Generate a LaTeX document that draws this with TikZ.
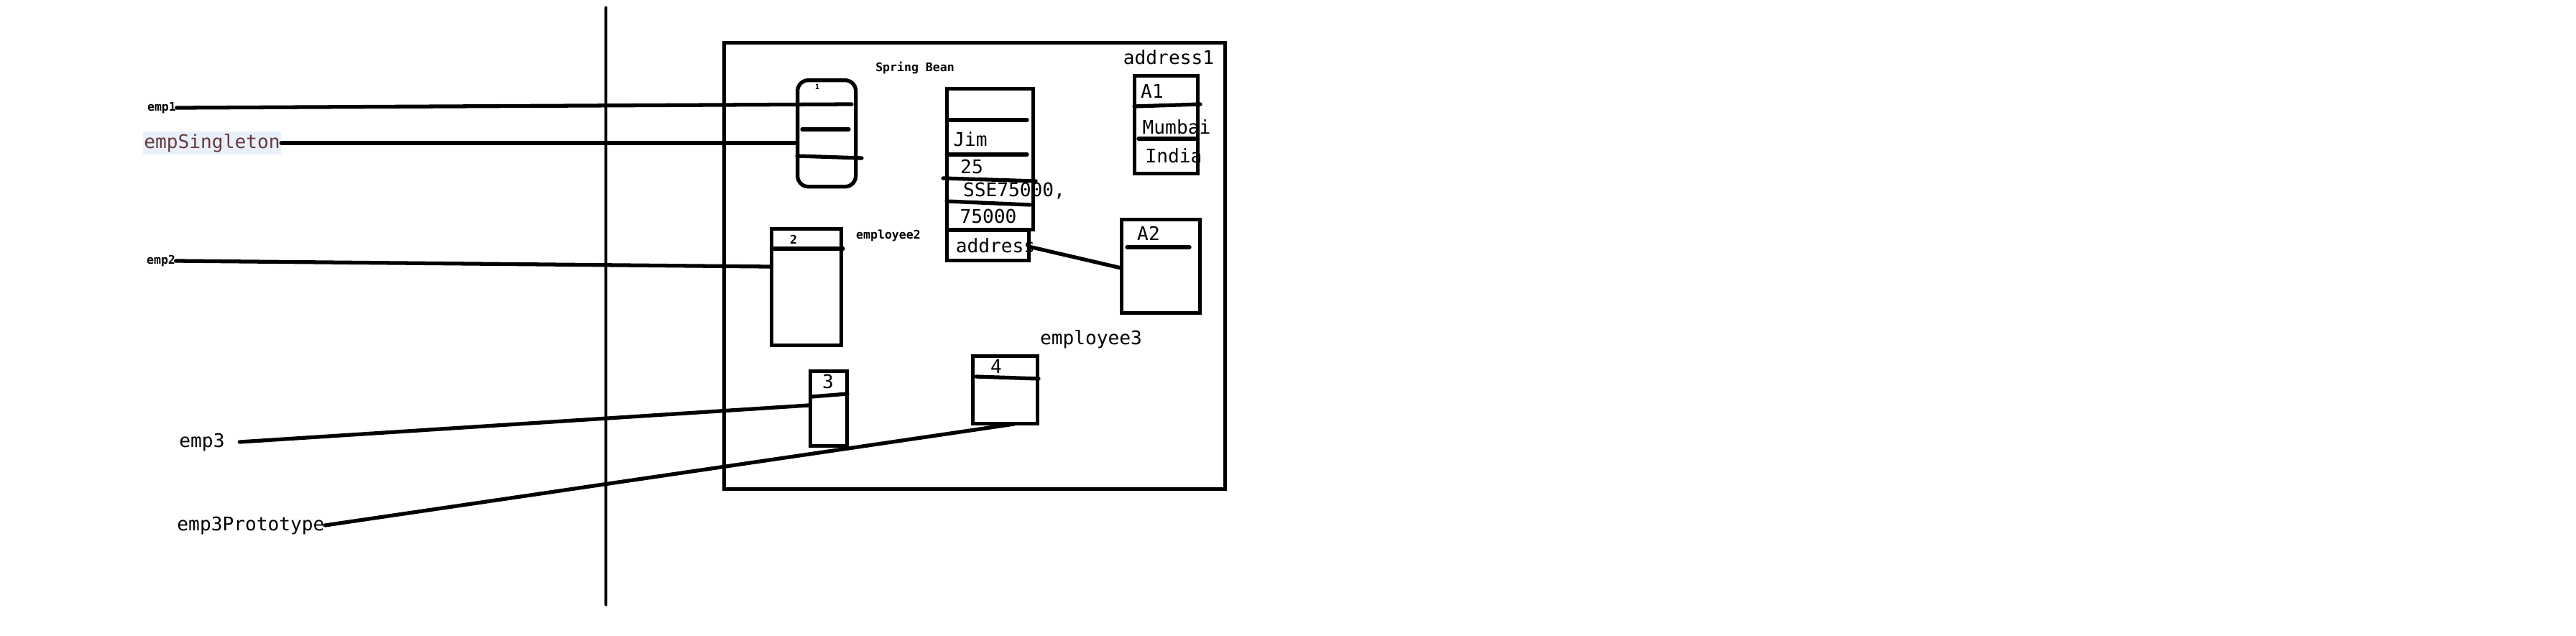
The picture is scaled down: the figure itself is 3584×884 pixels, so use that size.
\documentclass[tikz,border=0pt]{standalone}
\usepackage{fontspec}
\setmainfont{DejaVu Sans}
\setmonofont{DejaVu Sans Mono}
\usepackage{xcolor}
\usetikzlibrary{positioning}
\definecolor{refbrown}{RGB}{105,58,58}
\definecolor{refhigh}{RGB}{232,241,251}

\begin{document}
\begin{tikzpicture}[x=0.01cm, y=-0.01cm,
    objbox/.style={draw, line width=1.5pt, inner sep=0pt, anchor=north west},
    wire/.style={line width=1.5pt, line cap=round},
    cell/.style={font=\ttfamily\fontsize{7.45}{8}\selectfont, inner sep=0pt},
    tag/.style={font=\ttfamily\bfseries\fontsize{4.7}{5}\selectfont, inner sep=0pt}]
  \useasboundingbox (0,0) rectangle (3584,884);

  % stack / heap border
  \coordinate (top) at (843,11);
  \coordinate (bottom) at (843,841);
  \draw[line width=1.4pt, line cap=round] (top) -- (bottom);

  % the container
  \node[objbox, line width=1.4pt, minimum width=6.97cm, minimum height=6.21cm] (bean) at (1005,57) {};
  \node[tag] (beanlabel) at (1273,94) {Spring Bean};

  % objects
  \node[objbox, rounded corners=0.15cm, minimum width=0.81cm, minimum height=1.48cm] (obj1) at (1107,109) {};
  \node[objbox, minimum width=1.20cm, minimum height=1.96cm] (jimbox) at (1315,121) {};
  \node[objbox, minimum width=1.14cm, minimum height=0.42cm] (addrbox) at (1315,318) {};
  \node[objbox, minimum width=0.88cm, minimum height=1.36cm] (a1box) at (1576,103) {};
  \node[objbox, minimum width=1.09cm, minimum height=1.30cm] (a2box) at (1558,303) {};
  \node[objbox, minimum width=0.97cm, minimum height=1.62cm] (obj2) at (1071,316) {};
  \node[objbox, minimum width=0.51cm, minimum height=1.04cm] (obj3) at (1125,514) {};
  \node[objbox, minimum width=0.90cm, minimum height=0.94cm] (obj4) at (1351,493) {};

  % field dividers
  \foreach \xa/\ya/\xb/\yb in {1116/180/1181/180, 1109/217/1199/220,
      1321/167/1429/167, 1317/215/1429/215, 1312/248/1441/252, 1317/280/1433/285,
      1578/148/1670/145, 1584/193/1663/193, 1568/344/1655/344,
      1077/346/1173/346, 1129/552/1179/548, 1358/524/1445/527} {
    \draw[wire] (\xa,\ya) -- (\xb,\yb);
  }

  % object labels
  \node[tag, font=\ttfamily\bfseries\fontsize{2.8}{3}\selectfont] (id1) at (1137,121) {1};
  \node[tag] (id2) at (1104,333) {2};
  \node[cell] (id3) at (1152,531) {3};
  \node[cell] (id4) at (1386,510) {4};
  \node[tag] (emp2name) at (1236,328) {employee2};
  \node[cell] (emp3name) at (1518,472) {employee3};
  \node[cell] (addr1name) at (1626,80) {address1};

  % field values
  \node[cell] (fname) at (1350,194) {Jim};
  \node[cell] (fage) at (1352,232) {25};
  \node[cell] (fdesig) at (1411,266) {SSE75000,};
  \node[cell] (fsal) at (1375,301) {75000};
  \node[cell] (faddr) at (1385,342) {address};
  \node[cell] (fa1) at (1603,127) {A1};
  \node[cell] (fcity) at (1637,177) {Mumbai};
  \node[cell] (fcountry) at (1633,217) {India};
  \node[cell] (fa2) at (1598,325) {A2};

  % references on the stack
  \node[tag] (emp1) at (225,150) {emp1};
  \node[cell, fill=refhigh, text=refbrown, minimum width=1.91cm, minimum height=0.32cm] (empSingleton) at (295,199) {empSingleton};
  \node[tag] (emp2) at (224,363) {emp2};
  \node[cell] (emp3) at (281,615) {emp3};
  \node[cell] (emp3Prototype) at (349,731) {emp3Prototype};

  \coordinate (in1) at (1185,145);
  \coordinate (in2) at (1107,199);
  \coordinate (in3) at (1071,371);
  \coordinate (in4) at (1125,564);
  \coordinate (in5) at (1411,590);
  \coordinate (outaddr) at (1431,343);
  \coordinate (ina2) at (1560,373);

  \draw[wire] (emp1.east) -- (in1);
  \draw[wire] (empSingleton.east) -- (in2);
  \draw[wire] (emp2.east) -- (in3);
  \draw[wire] ([xshift=0.2cm]emp3.east) -- (in4);
  \draw[wire] (emp3Prototype.east) -- (in5);
  \draw[wire] (outaddr) -- (ina2);
\end{tikzpicture}
\end{document}
